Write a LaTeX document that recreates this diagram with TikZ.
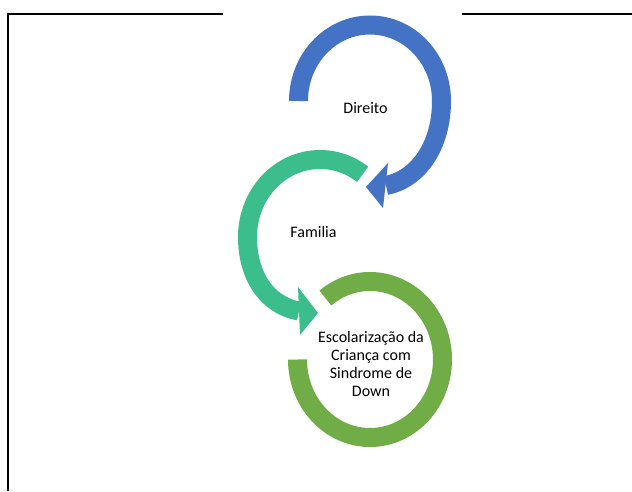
\documentclass[tikz,border=0pt]{standalone}
\usepackage{fontspec}
\setmainfont{Carlito}
\definecolor{cblue}{RGB}{68,114,196}
\definecolor{cteal}{RGB}{60,190,140}
\definecolor{cgreen}{RGB}{112,173,71}
\begin{document}
\begin{tikzpicture}[x=1pt,y=1pt,
  band/.style={line width=19pt},
  gap/.style={draw=white,line width=3pt,line join=round},
  frame/.style={line width=2pt,black},
  lbl/.style={font=\fontsize{16}{18}\selectfont, text=black, align=center, inner sep=0pt}]
\useasboundingbox (0,0) rectangle (632,491);
\fill[white] (0,0) rectangle (632,491);
% frame
\coordinate (f1) at (632,477);
\coordinate (f2) at (462,477);
\coordinate (f3) at (223,477);
\coordinate (f4) at (8,477);
\coordinate (f5) at (8,0);
\draw[frame] (f1) -- (f2);
\draw[frame] (f3) -- (f4) -- (f5);
% green
\draw[band,cgreen] (325.36,192.96) arc[start angle=128,end angle=-180,x radius=72.5,y radius=78];
% teal
\draw[gap] (298,204) -- (318,178) -- (300,156) -- cycle;
\draw[band,cteal] (362.61,316.70) arc[start angle=54,end angle=180,x radius=72.5,y radius=77.5] .. controls (247.5,216) and (266,186) .. (299,180);
\fill[cteal] (298,204) -- (318,178) -- (300,156) -- cycle;
% blue
\draw[gap] (388,328) -- (366,304) -- (383,283) -- cycle;
\draw[band,cblue] (298.5,390) arc[start angle=180,end angle=0,x radius=71.5,y radius=76] .. controls (441.5,346) and (419,312) .. (386,305.5);
\fill[cblue] (388,328) -- (366,304) -- (383,283) -- cycle;
% labels
\node[lbl] (direito) at (365.5,383) {Direito};
\node[lbl] (familia) at (313.5,259) {Familia};
\node[lbl] (escola) at (371,127) {Escolarização da\\Criança com\\Sindrome de\\Down};
\end{tikzpicture}
\end{document}
